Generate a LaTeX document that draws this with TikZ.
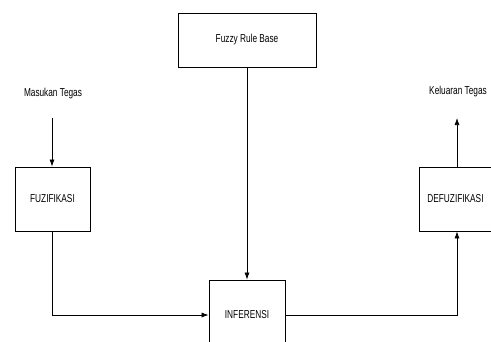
\documentclass[tikz,border=0pt]{standalone}
\usepackage{fontspec}
\setmainfont{Liberation Sans}[FakeStretch=0.72]
\usetikzlibrary{arrows.meta}
\begin{document}
\begin{tikzpicture}[x=1pt,y=-1pt,
  box/.style={draw, line width=0.8pt, inner sep=0pt, font=\fontsize{11.5}{13}\selectfont},
  lbl/.style={inner sep=0pt, font=\fontsize{11.5}{13}\selectfont},
  conn/.style={line width=0.7pt},
  arr/.style={conn, -{Latex[length=7pt,width=5pt]}}]
\useasboundingbox (0,0) rectangle (491,341);
\clip (0,0) rectangle (491,341);
\node[box, minimum width=138pt, minimum height=54pt] (rule) at (247,40) {Fuzzy Rule Base};
\node[box, minimum width=75pt, minimum height=64pt] (fuz) at (52.5,199) {FUZIFIKASI};
\node[box, minimum width=76pt, minimum height=64pt] (def) at (457,199) {\hspace*{-3pt}DEFUZIFIKASI};
\node[box, minimum width=76pt, minimum height=70pt] (inf) at (247,315) {INFERENSI};
\node[lbl] (in) at (53,94) {Masukan Tegas};
\node[lbl] (out) at (458,92) {Keluaran Tegas};
\coordinate (ins) at (52,118);
\coordinate (outs) at (457,118);
\draw[arr] (ins) -- (fuz.north -| ins);
\draw[arr] (def.north -| outs) -- (outs);
\draw[arr] (rule.south) -- (inf.north);
\draw[arr] (fuz.south -| ins) |- (inf.west);
\draw[arr] (inf.east) -| (def.south -| outs);
\end{tikzpicture}
\end{document}
